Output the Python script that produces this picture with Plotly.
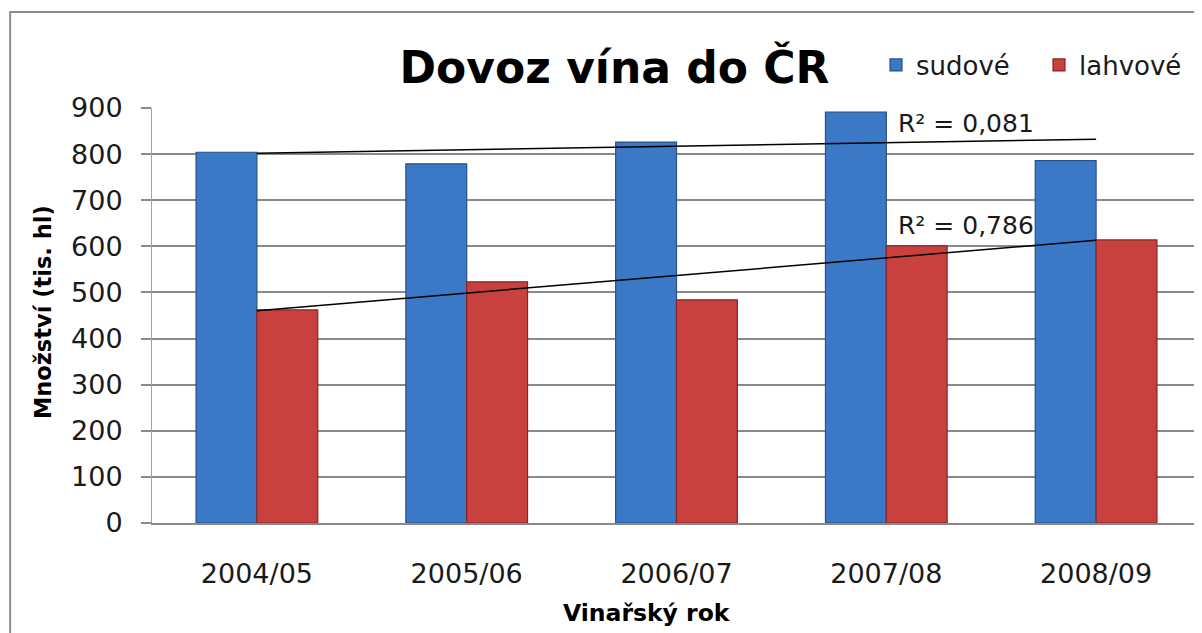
import numpy as np
import plotly.graph_objects as go

# ---- data ----
categories = ["2004/05", "2005/06", "2006/07", "2007/08", "2008/09"]
sudove = [804, 779, 826, 891, 786]
lahvove = [462, 523, 484, 601, 614]
r2_labels = ["R² = 0,081", "R² = 0,786"]
y_ticks = [0, 100, 200, 300, 400, 500, 600, 700, 800, 900]

FONT = "DejaVu Sans"
OFF = 8  # page body margin
W, H = 1202 - OFF, 633 - OFF
L, R, T, B = 152 - OFF, 0, 108 - OFF, 633 - 523
PW, PH = W - L - R, H - T - B


def px(x):
    return (x - OFF - L) / PW


def py(y):
    return (H - B - (y - OFF)) / PH


xi = np.arange(1, len(categories) + 1)
fit_s = np.polyval(np.polyfit(xi, sudove, 1), xi)
fit_l = np.polyval(np.polyfit(xi, lahvove, 1), xi)

fig = go.Figure()
fig.add_trace(go.Bar(x=categories, y=sudove, name="sudové",
                     marker=dict(color="#3b78c6", line=dict(color="#28508a", width=1.2))))
fig.add_trace(go.Bar(x=categories, y=lahvove, name="lahvové",
                     marker=dict(color="#c8413e", line=dict(color="#862523", width=1.2))))
fig.add_trace(go.Scatter(x=categories, y=fit_s, mode="lines", showlegend=False,
                         line=dict(color="black", width=1.5), hoverinfo="skip"))
fig.add_trace(go.Scatter(x=categories, y=fit_l, mode="lines", showlegend=False,
                         line=dict(color="black", width=1.5), hoverinfo="skip"))

fig.update_layout(
    width=W, height=H,
    margin=dict(l=L, r=R, t=T, b=B),
    paper_bgcolor="white", plot_bgcolor="white",
    font=dict(family=FONT, color="#1a1a1a"),
    barmode="group", bargap=0.42, bargroupgap=0,
    title=dict(text="<b>Dovoz vína do ČR</b>", font=dict(family=FONT, size=44, color="black"),
               xref="paper", x=px(615), xanchor="center",
               yref="container", y=1 - (68 - OFF) / H, yanchor="middle"),
    legend=dict(orientation="h", x=px(877), xanchor="left", y=py(65), yanchor="middle",
                font=dict(family=FONT, size=26, color="#1a1a1a"),
                bgcolor="rgba(0,0,0,0)", traceorder="normal",
                entrywidth=118, entrywidthmode="pixels"),
    showlegend=True,
)
fig.update_xaxes(
    showline=True, linecolor="#8a8a8a", linewidth=2,
    ticks="", tickfont=dict(family=FONT, size=27, color="#1a1a1a"),
    ticklabelstandoff=26, showgrid=False,
)
fig.update_yaxes(
    range=[0, 900], tickvals=y_ticks,
    showline=True, linecolor="#a0a0a0", linewidth=1,
    ticks="outside", ticklen=10, tickcolor="#8a8a8a", tickwidth=2,
    tickfont=dict(family=FONT, size=27, color="#1a1a1a"), ticklabelstandoff=13,
    showgrid=True, gridcolor="#8a8a8a", gridwidth=2, zeroline=False,
)

ann = [
    dict(text="<b>Množství (tis. hl)</b>", x=px(43), y=py(312), textangle=-90,
         font=dict(family=FONT, size=22.5, color="black")),
    dict(text="<b>Vinařský rok</b>", x=px(647), y=py(613),
         font=dict(family=FONT, size=23.5, color="black")),
    dict(text=r2_labels[0], x=px(897), y=py(123), xanchor="left",
         font=dict(family=FONT, size=25, color="#1a1a1a")),
    dict(text=r2_labels[1], x=px(897), y=py(225), xanchor="left",
         font=dict(family=FONT, size=25, color="#1a1a1a")),
]
for a in ann:
    a.setdefault("xanchor", "center")
    fig.add_annotation(xref="paper", yref="paper", showarrow=False, yanchor="middle", **a)

fig.add_shape(type="rect", xref="paper", yref="paper",
              x0=px(10), x1=px(1230), y0=py(680), y1=py(12),
              line=dict(color="#8c8c8c", width=2), fillcolor="rgba(0,0,0,0)", layer="below")

fig.write_html("out.html")
